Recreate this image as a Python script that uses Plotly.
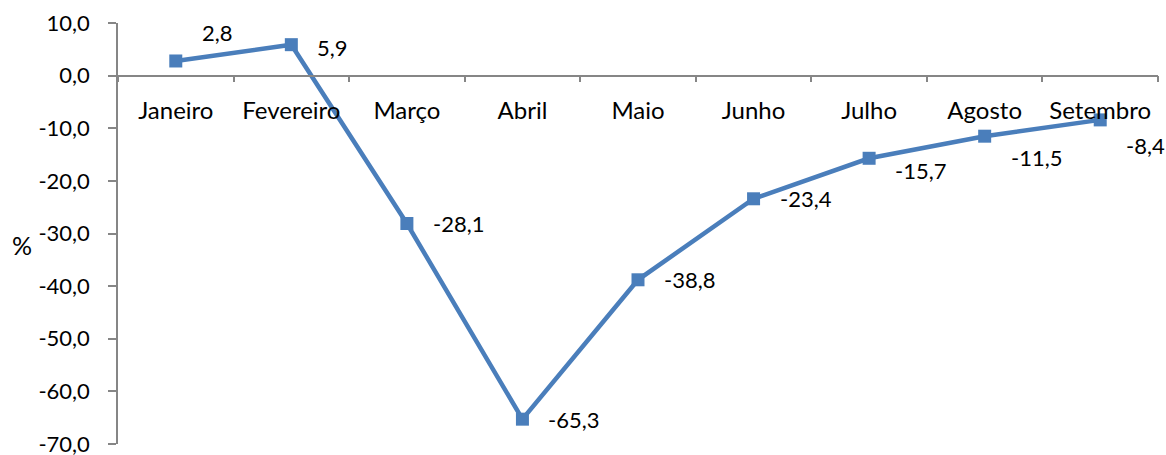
import plotly.graph_objects as go

months = ["Janeiro", "Fevereiro", "Março", "Abril", "Maio", "Junho", "Julho", "Agosto", "Setembro"]
values = [2.8, 5.9, -28.1, -65.3, -38.8, -23.4, -15.7, -11.5, -8.4]
y_ticks = [10, 0, -10, -20, -30, -40, -50, -60, -70]
y_tick_text = [f"{t:.1f}".replace(".", ",") for t in y_ticks]

# label offsets in pixels (style only)
label_dx = [24, 24, 24, 24, 24, 24, 24, 24, 24]
label_dy = [28, -3, 0, 0, 0, 0, -12, -21, -26]

LINE = "#4A7EBB"
AXIS = "#868686"
FONT = "Lato"

fig = go.Figure()
fig.add_trace(go.Scatter(
    x=months, y=values, mode="lines+markers",
    line=dict(color=LINE, width=4.5),
    marker=dict(symbol="square", size=13, color=LINE),
    hoverinfo="skip",
))

for m, v, dx, dy in zip(months, values, label_dx, label_dy):
    fig.add_annotation(
        x=m, y=v, xref="x", yref="y",
        text=f"{v:.1f}".replace(".", ","),
        showarrow=False, xanchor="left", yanchor="middle",
        xshift=dx, yshift=dy,
        font=dict(family=FONT, size=22, color="#000000"),
    )

fig.add_annotation(
    x=(22 - 118) / 1040, y=(444 - 245) / 421, xref="paper", yref="paper",
    text="%", showarrow=False, xanchor="center", yanchor="middle",
    font=dict(family=FONT, size=25, color="#000000"),
)

fig.update_layout(
    width=1166, height=455,
    margin=dict(l=118, r=8, t=23, b=11, autoexpand=False),
    paper_bgcolor="white", plot_bgcolor="white",
    showlegend=False,
    font=dict(family=FONT, size=22, color="#000000"),
    xaxis=dict(
        type="category",
        anchor="free", position=0.875,
        showline=True, linecolor=AXIS, linewidth=1.5,
        ticks="outside", ticklen=6, tickcolor=AXIS, tickwidth=1.5,
        tickson="boundaries",
        showgrid=False, zeroline=False,
        ticklabelstandoff=14,
        automargin=False,
        tickfont=dict(family=FONT, size=24, color="#000000"),
        range=[-0.5, 8.5],
    ),
    yaxis=dict(
        range=[-70.02, 10.02],
        tickmode="array", tickvals=y_ticks, ticktext=y_tick_text,
        showline=True, linecolor=AXIS, linewidth=1.5,
        ticks="outside", ticklen=8, tickcolor=AXIS, tickwidth=1.5,
        showgrid=False, zeroline=False,
        ticklabelstandoff=14,
        ticklabeloverflow="allow",
        automargin=False,
        tickfont=dict(family=FONT, size=22, color="#000000"),
    ),
)

fig.write_html("out.html")
